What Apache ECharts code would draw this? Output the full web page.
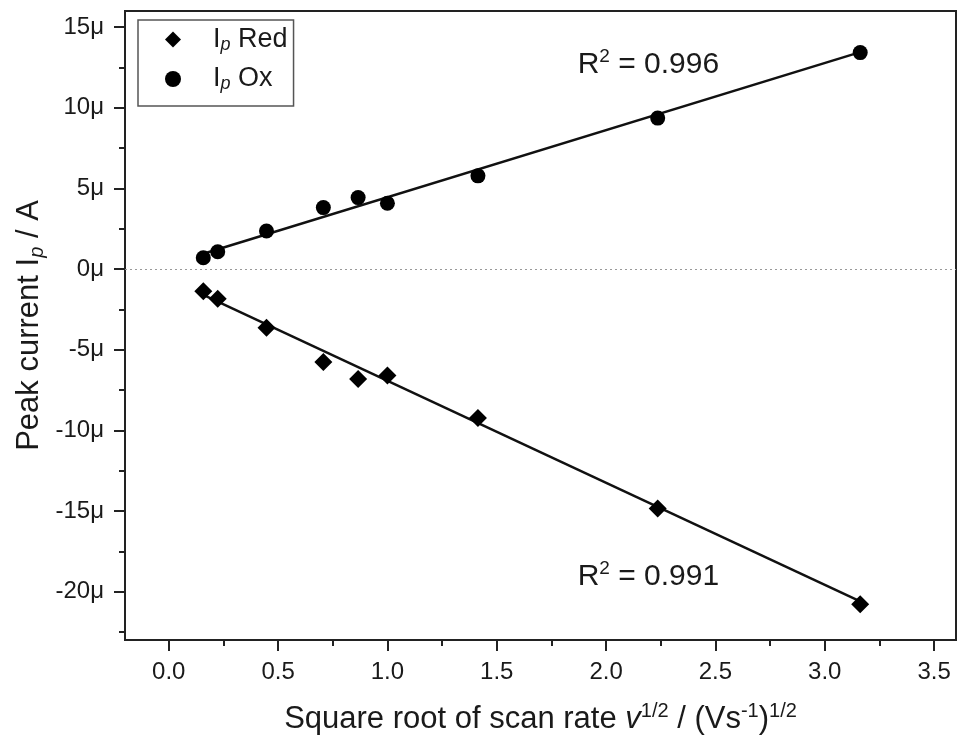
<!DOCTYPE html>
<html>
<head>
<meta charset="utf-8">
<script src="https://cdn.jsdelivr.net/npm/echarts@6/dist/echarts.min.js"></script>
<style>
html,body{margin:0;padding:0;background:#fff;}
#chart{width:957px;height:738px;}
</style>
</head>
<body>
<div id="chart"></div>
<script>
// Square root of scan rate (V/s)^1/2
const sqrtScanRate = [0.158, 0.224, 0.447, 0.707, 0.866, 1.0, 1.414, 2.236, 3.162];
// Peak currents in µA
const ipOx  = [0.70, 1.07, 2.36, 3.81, 4.43, 4.08, 5.78, 9.36, 13.42];
const ipRed = [-1.37, -1.84, -3.64, -5.76, -6.81, -6.60, -9.23, -14.84, -20.79];
// Linear fit end points
const fitX = [0.158, 3.162];
const oxFitY = [0.95, 13.45];
const redFitY = [-1.60, -20.60];
const r2Ox = '0.996';
const r2Red = '0.991';
// Axis ticks
const xMajor = [0, 0.5, 1.0, 1.5, 2.0, 2.5, 3.0, 3.5];
const xMinor = [0.25, 0.75, 1.25, 1.75, 2.25, 2.75, 3.25];
const yMajor = [-20, -15, -10, -5, 0, 5, 10, 15];
const yMinor = [-22.5, -17.5, -12.5, -7.5, -2.5, 2.5, 7.5, 12.5];

const FONT = 'Liberation Sans, Arial, sans-serif';
const INK = '#1a1a1a';

const zip = (xs, ys) => xs.map((x, i) => [x, ys[i]]);

const chart = echarts.init(document.getElementById('chart'), null, {renderer: 'canvas'});

const titleRich = {
  n: {fontSize: 31, fontFamily: FONT, color: INK, lineHeight: 36},
  i: {fontSize: 31, fontFamily: FONT, color: INK, lineHeight: 36, fontStyle: 'italic'},
  sup: {fontSize: 20, fontFamily: FONT, color: INK, lineHeight: 15, verticalAlign: 'top'},
  sub: {fontSize: 20, fontFamily: FONT, color: INK, lineHeight: 12, verticalAlign: 'bottom', fontStyle: 'italic'}
};
const r2Rich = {
  n: {fontSize: 30, fontFamily: FONT, color: INK, lineHeight: 34},
  sup: {fontSize: 19, fontFamily: FONT, color: INK, lineHeight: 14, verticalAlign: 'top'}
};

const option = {
  animation: false,
  backgroundColor: '#fff',
  grid: {left: 125, right: 1, top: 11, bottom: 98, containLabel: false, outerBoundsMode: 'none',
    show: true, borderColor: '#222', borderWidth: 2, backgroundColor: 'transparent'},
  legend: {
    left: 138, top: 20, orient: 'vertical',
    data: ['Ip Red', 'Ip Ox'],
    borderColor: '#555', borderWidth: 1.5, borderRadius: 0,
    padding: [6, 6, 13, 27],
    itemGap: 12, itemWidth: 16, itemHeight: 16,
    formatter: name => name === 'Ip Red' ? '{g|}{n|I}{s|p}{n| Red}' : '{g|}{n|I}{s|p}{n| Ox}',
    textStyle: {
      rich: {
        g: {width: 27},
        n: {fontSize: 27, fontFamily: FONT, color: INK, lineHeight: 28},
        s: {fontSize: 18, fontFamily: FONT, color: INK, lineHeight: 12, verticalAlign: 'bottom', fontStyle: 'italic'}
      }
    }
  },
  xAxis: [
    {
      type: 'value', min: -0.2, max: 3.6, position: 'bottom',
      name: '{n|Square root of scan rate }{i|v}{sup|1/2}{n| / (Vs}{sup|-1}{n|)}{sup|1/2}',
      nameLocation: 'middle', nameGap: 61, nameMoveOverlap: false,
      nameTextStyle: {rich: titleRich},
      axisLine: {show: true, onZero: false, lineStyle: {color: '#222', width: 2}},
      axisTick: {show: true, inside: false, length: 11, lineStyle: {color: '#222', width: 2}, customValues: xMajor},
      axisLabel: {show: true, customValues: xMajor, margin: 20, fontSize: 24, fontFamily: FONT, color: INK,
        formatter: v => v.toFixed(1)},
      splitLine: {show: false}
    },
    {
      type: 'value', min: -0.2, max: 3.6, position: 'bottom', offset: 0,
      axisLine: {show: false, onZero: false},
      axisTick: {show: true, inside: false, length: 6, lineStyle: {color: '#222', width: 2}, customValues: xMinor},
      axisLabel: {show: false},
      splitLine: {show: false}
    }
  ],
  yAxis: [
    {
      type: 'value', min: -23, max: 16, position: 'left',
      name: '{n|Peak current I}{sub|p}{n| / A}',
      nameLocation: 'middle', nameGap: 78, nameMoveOverlap: false,
      nameTextStyle: {rich: titleRich},
      axisLine: {show: true, onZero: false, lineStyle: {color: '#222', width: 2}},
      axisTick: {show: true, inside: false, length: 11, lineStyle: {color: '#222', width: 2}, customValues: yMajor},
      axisLabel: {show: true, customValues: yMajor, margin: 21, fontSize: 24, fontFamily: FONT, color: INK,
        formatter: v => v + 'μ'},
      splitLine: {show: false}
    },
    {
      type: 'value', min: -23, max: 16, position: 'left', offset: 0,
      axisLine: {show: false, onZero: false},
      axisTick: {show: true, inside: false, length: 6, lineStyle: {color: '#222', width: 2}, customValues: yMinor},
      axisLabel: {show: false},
      splitLine: {show: false}
    }
  ],
  series: [
    {
      name: 'Ox fit', type: 'line', xAxisIndex: 0, yAxisIndex: 0,
      data: zip(fitX, oxFitY), symbol: 'none', z: 2,
      lineStyle: {color: '#111', width: 2.5},
      markPoint: {
        symbol: 'circle', symbolSize: 0,
        data: [{coord: [1.87, 12.67]}],
        label: {show: true, position: 'right', distance: 0,
          formatter: '{n|R}{sup|2}{n| = ' + r2Ox + '}', rich: r2Rich}
      }
    },
    {
      name: 'Red fit', type: 'line', xAxisIndex: 0, yAxisIndex: 0,
      data: zip(fitX, redFitY), symbol: 'none', z: 2,
      lineStyle: {color: '#111', width: 2.5},
      markPoint: {
        symbol: 'circle', symbolSize: 0,
        data: [{coord: [1.87, -19.07]}],
        label: {show: true, position: 'right', distance: 0,
          formatter: '{n|R}{sup|2}{n| = ' + r2Red + '}', rich: r2Rich}
      }
    },
    {
      name: 'Ip Red', type: 'scatter', xAxisIndex: 0, yAxisIndex: 0,
      data: zip(sqrtScanRate, ipRed), symbol: 'diamond', symbolSize: 18, z: 3,
      itemStyle: {color: '#000', opacity: 1}
    },
    {
      name: 'Ip Ox', type: 'scatter', xAxisIndex: 0, yAxisIndex: 0,
      data: zip(sqrtScanRate, ipOx), symbol: 'circle', symbolSize: 15, z: 3,
      itemStyle: {color: '#000', opacity: 1},
      markLine: {
        silent: true, symbol: ['none', 'none'],
        data: [{yAxis: 0}],
        label: {show: false},
        lineStyle: {type: [2, 3], color: '#999', width: 1.2}
      }
    }
  ]
};
chart.setOption(option);
</script>
</body>
</html>
